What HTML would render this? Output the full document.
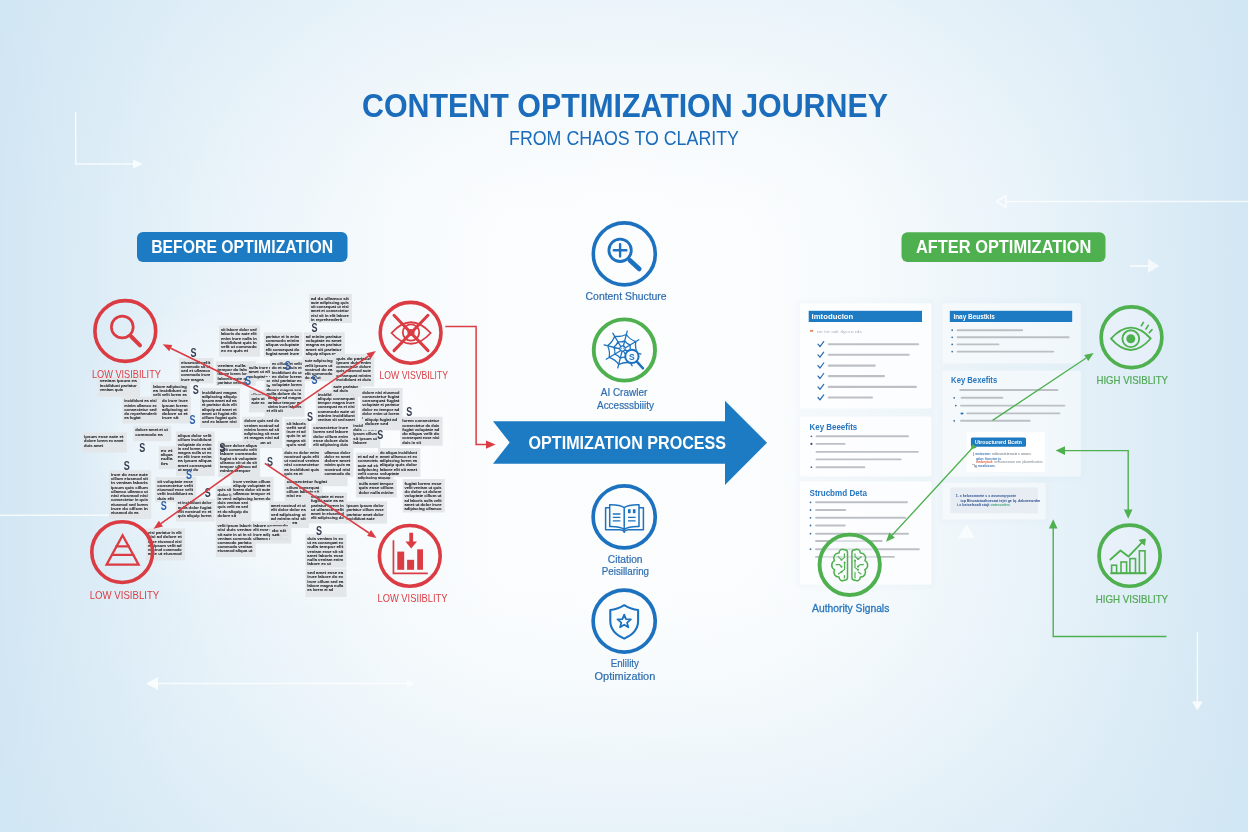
<!DOCTYPE html>
<html lang="en"><head><meta charset="utf-8"><title>Content Optimization Journey</title>
<style>html,body{margin:0;padding:0;background:#fdfefe;overflow:hidden}svg{display:block;opacity:0.999}</style></head>
<body>
<svg width="1248" height="832" viewBox="0 0 1248 832" font-family="'Liberation Sans', sans-serif">
<defs>
<linearGradient id="gh" x1="0" y1="0" x2="1" y2="0"><stop offset="0.0000" stop-color="#cfe5f3" stop-opacity="0.930"/><stop offset="0.0208" stop-color="#cfe5f3" stop-opacity="0.875"/><stop offset="0.0417" stop-color="#cfe5f3" stop-opacity="0.814"/><stop offset="0.0625" stop-color="#cfe5f3" stop-opacity="0.752"/><stop offset="0.0833" stop-color="#cfe5f3" stop-opacity="0.691"/><stop offset="0.1042" stop-color="#cfe5f3" stop-opacity="0.631"/><stop offset="0.1250" stop-color="#cfe5f3" stop-opacity="0.571"/><stop offset="0.1458" stop-color="#cfe5f3" stop-opacity="0.511"/><stop offset="0.1667" stop-color="#cfe5f3" stop-opacity="0.456"/><stop offset="0.1875" stop-color="#cfe5f3" stop-opacity="0.409"/><stop offset="0.2083" stop-color="#cfe5f3" stop-opacity="0.362"/><stop offset="0.2292" stop-color="#cfe5f3" stop-opacity="0.315"/><stop offset="0.2500" stop-color="#cfe5f3" stop-opacity="0.271"/><stop offset="0.2708" stop-color="#cfe5f3" stop-opacity="0.229"/><stop offset="0.2917" stop-color="#cfe5f3" stop-opacity="0.188"/><stop offset="0.3125" stop-color="#cfe5f3" stop-opacity="0.146"/><stop offset="0.3333" stop-color="#cfe5f3" stop-opacity="0.118"/><stop offset="0.3542" stop-color="#cfe5f3" stop-opacity="0.098"/><stop offset="0.3750" stop-color="#cfe5f3" stop-opacity="0.078"/><stop offset="0.3958" stop-color="#cfe5f3" stop-opacity="0.058"/><stop offset="0.4167" stop-color="#cfe5f3" stop-opacity="0.047"/><stop offset="0.4375" stop-color="#cfe5f3" stop-opacity="0.043"/><stop offset="0.4583" stop-color="#cfe5f3" stop-opacity="0.039"/><stop offset="0.4792" stop-color="#cfe5f3" stop-opacity="0.034"/><stop offset="0.5000" stop-color="#cfe5f3" stop-opacity="0.030"/><stop offset="0.5208" stop-color="#cfe5f3" stop-opacity="0.034"/><stop offset="0.5417" stop-color="#cfe5f3" stop-opacity="0.039"/><stop offset="0.5625" stop-color="#cfe5f3" stop-opacity="0.043"/><stop offset="0.5833" stop-color="#cfe5f3" stop-opacity="0.047"/><stop offset="0.6042" stop-color="#cfe5f3" stop-opacity="0.058"/><stop offset="0.6250" stop-color="#cfe5f3" stop-opacity="0.078"/><stop offset="0.6458" stop-color="#cfe5f3" stop-opacity="0.098"/><stop offset="0.6667" stop-color="#cfe5f3" stop-opacity="0.118"/><stop offset="0.6875" stop-color="#cfe5f3" stop-opacity="0.146"/><stop offset="0.7083" stop-color="#cfe5f3" stop-opacity="0.188"/><stop offset="0.7292" stop-color="#cfe5f3" stop-opacity="0.229"/><stop offset="0.7500" stop-color="#cfe5f3" stop-opacity="0.271"/><stop offset="0.7708" stop-color="#cfe5f3" stop-opacity="0.315"/><stop offset="0.7917" stop-color="#cfe5f3" stop-opacity="0.362"/><stop offset="0.8125" stop-color="#cfe5f3" stop-opacity="0.409"/><stop offset="0.8333" stop-color="#cfe5f3" stop-opacity="0.456"/><stop offset="0.8542" stop-color="#cfe5f3" stop-opacity="0.511"/><stop offset="0.8750" stop-color="#cfe5f3" stop-opacity="0.571"/><stop offset="0.8958" stop-color="#cfe5f3" stop-opacity="0.631"/><stop offset="0.9167" stop-color="#cfe5f3" stop-opacity="0.691"/><stop offset="0.9375" stop-color="#cfe5f3" stop-opacity="0.752"/><stop offset="0.9583" stop-color="#cfe5f3" stop-opacity="0.814"/><stop offset="0.9792" stop-color="#cfe5f3" stop-opacity="0.875"/><stop offset="1.0000" stop-color="#cfe5f3" stop-opacity="0.930"/></linearGradient>
<linearGradient id="gv" x1="0" y1="0" x2="0" y2="1"><stop offset="0.0000" stop-color="#cfe5f3" stop-opacity="0.376"/><stop offset="0.0385" stop-color="#cfe5f3" stop-opacity="0.300"/><stop offset="0.0769" stop-color="#cfe5f3" stop-opacity="0.229"/><stop offset="0.1154" stop-color="#cfe5f3" stop-opacity="0.164"/><stop offset="0.1538" stop-color="#cfe5f3" stop-opacity="0.107"/><stop offset="0.1923" stop-color="#cfe5f3" stop-opacity="0.061"/><stop offset="0.2308" stop-color="#cfe5f3" stop-opacity="0.026"/><stop offset="0.2692" stop-color="#cfe5f3" stop-opacity="0.005"/><stop offset="0.3077" stop-color="#cfe5f3" stop-opacity="0.000"/><stop offset="0.3462" stop-color="#cfe5f3" stop-opacity="0.000"/><stop offset="0.3846" stop-color="#cfe5f3" stop-opacity="0.000"/><stop offset="0.4231" stop-color="#cfe5f3" stop-opacity="0.000"/><stop offset="0.4615" stop-color="#cfe5f3" stop-opacity="0.000"/><stop offset="0.5000" stop-color="#cfe5f3" stop-opacity="0.000"/><stop offset="0.5385" stop-color="#cfe5f3" stop-opacity="0.000"/><stop offset="0.5769" stop-color="#cfe5f3" stop-opacity="0.000"/><stop offset="0.6154" stop-color="#cfe5f3" stop-opacity="0.000"/><stop offset="0.6538" stop-color="#cfe5f3" stop-opacity="0.000"/><stop offset="0.6923" stop-color="#cfe5f3" stop-opacity="0.005"/><stop offset="0.7308" stop-color="#cfe5f3" stop-opacity="0.026"/><stop offset="0.7692" stop-color="#cfe5f3" stop-opacity="0.061"/><stop offset="0.8077" stop-color="#cfe5f3" stop-opacity="0.107"/><stop offset="0.8462" stop-color="#cfe5f3" stop-opacity="0.164"/><stop offset="0.8846" stop-color="#cfe5f3" stop-opacity="0.229"/><stop offset="0.9231" stop-color="#cfe5f3" stop-opacity="0.300"/><stop offset="0.9615" stop-color="#cfe5f3" stop-opacity="0.376"/><stop offset="1.0000" stop-color="#cfe5f3" stop-opacity="0.455"/></linearGradient>
<filter id="sh" x="-10%" y="-10%" width="120%" height="120%"><feGaussianBlur stdDeviation="2.5"/></filter>
<filter id="b2"><feGaussianBlur stdDeviation="0.7"/></filter>
<filter id="gray" x="0" y="0" width="100%" height="100%" filterUnits="userSpaceOnUse"><feOffset dx="0" dy="0"/></filter>
<filter id="glow" x="-30%" y="-30%" width="160%" height="160%"><feGaussianBlur stdDeviation="28"/></filter>
<filter id="b1"><feGaussianBlur stdDeviation="0.3"/></filter>
</defs>
<rect width="1248" height="832" fill="#fdfefe"/>
<rect width="1248" height="832" fill="url(#gh)"/>
<rect width="1248" height="832" fill="url(#gv)"/>
<g filter="url(#gray)">
<g stroke="#ffffff" stroke-width="1.5" fill="none" opacity="0.75">
<path d="M75.7 112.2V164H134"/>
<path d="M1006 201.5H1248"/>
<path d="M1006 195.5L996.5 201.5L1006 207.5Z"/>
<path d="M0 515.3H150"/>
<path d="M155 683.5H408"/>
<path d="M1197.4 631.6V702"/>
</g>
<g fill="#ffffff" opacity="0.8">
<path d="M133 159.2L142.6 164L133 168.8Z"/>
<path d="M1130 265H1148V259L1159.5 266L1148 273V267H1130Z" opacity="0.85"/>
<path d="M146 683.5L158 677V690Z"/>
<path d="M407 679L415 683.5L407 688Z" opacity="0.7"/>
<path d="M1192 701.5H1202.8L1197.4 710.5Z"/>
<path d="M966.5 524L975 538H958Z" opacity="0.8"/>
</g>
<text x="625" y="117.3" font-size="33.5" fill="#1b6cbb" font-weight="bold" text-anchor="middle" textLength="526" lengthAdjust="spacingAndGlyphs" >CONTENT OPTIMIZATION JOURNEY</text>
<text x="624" y="144.6" font-size="20" fill="#1b6cbb" font-weight="normal" text-anchor="middle" textLength="230" lengthAdjust="spacingAndGlyphs" >FROM CHAOS TO CLARITY</text>
<rect x="137" y="232" width="210.5" height="30" rx="6" fill="#1c7bc3"/>
<text x="242.2" y="253.2" font-size="17.8" fill="#fff" font-weight="bold" text-anchor="middle" textLength="182" lengthAdjust="spacingAndGlyphs" >BEFORE OPTIMIZATION</text>
<rect x="901.5" y="232.3" width="204" height="29.7" rx="6" fill="#4fb050"/>
<text x="1003.7" y="253.3" font-size="17.8" fill="#fff" font-weight="bold" text-anchor="middle" textLength="175.5" lengthAdjust="spacingAndGlyphs" >AFTER OPTIMIZATION</text>
<ellipse cx="275" cy="445" rx="170" ry="135" fill="#ffffff" opacity="0.4" filter="url(#glow)"/>
<g font-size="4.2" font-weight="bold" fill="#26282c" stroke="#26282c" stroke-width="0.08" filter="url(#b1)">
<rect x="309.0" y="294.0" width="43.0" height="29.0" fill="#e3e6e9" stroke="none" opacity="0.95"/>
<text x="310.9" y="299.6" textLength="37.8" lengthAdjust="spacingAndGlyphs">ad do ullamco sit</text>
<text x="310.9" y="303.8" textLength="37.8" lengthAdjust="spacingAndGlyphs">aute adipiscing quis</text>
<text x="310.9" y="308.1" textLength="37.8" lengthAdjust="spacingAndGlyphs">sit consequat ut nisi</text>
<text x="310.9" y="312.3" textLength="37.8" lengthAdjust="spacingAndGlyphs">amet et consectetur</text>
<text x="310.9" y="316.6" textLength="37.8" lengthAdjust="spacingAndGlyphs">nisi sit in elit labore</text>
<text x="310.9" y="320.8" textLength="31.3" lengthAdjust="spacingAndGlyphs">in reprehenderit</text>
<rect x="219.0" y="325.6" width="41.0" height="31.0" fill="#e3e6e9" stroke="none" opacity="0.95"/>
<text x="220.9" y="331.2" textLength="35.8" lengthAdjust="spacingAndGlyphs">sit labore dolor sed</text>
<text x="220.9" y="335.4" textLength="35.8" lengthAdjust="spacingAndGlyphs">laboris do aute elit</text>
<text x="220.9" y="339.7" textLength="35.8" lengthAdjust="spacingAndGlyphs">enim irure nulla in</text>
<text x="220.9" y="343.9" textLength="35.8" lengthAdjust="spacingAndGlyphs">incididunt quis in</text>
<text x="220.9" y="348.2" textLength="35.8" lengthAdjust="spacingAndGlyphs">velit ut commodo</text>
<text x="220.9" y="352.4" textLength="27.2" lengthAdjust="spacingAndGlyphs">ex ex quis et</text>
<rect x="263.8" y="332.3" width="38.7" height="24.4" fill="#e3e6e9" stroke="none" opacity="0.95"/>
<text x="265.7" y="337.9" textLength="33.5" lengthAdjust="spacingAndGlyphs">pariatur et in enim</text>
<text x="265.7" y="342.1" textLength="33.5" lengthAdjust="spacingAndGlyphs">commodo minim</text>
<text x="265.7" y="346.4" textLength="33.5" lengthAdjust="spacingAndGlyphs">aliqua voluptate</text>
<text x="265.7" y="350.6" textLength="33.5" lengthAdjust="spacingAndGlyphs">elit consequat do</text>
<text x="265.7" y="354.9" textLength="33.5" lengthAdjust="spacingAndGlyphs">fugiat amet irure</text>
<rect x="303.8" y="332.3" width="41.0" height="24.4" fill="#e3e6e9" stroke="none" opacity="0.95"/>
<text x="305.7" y="337.9" textLength="35.8" lengthAdjust="spacingAndGlyphs">ad minim pariatur</text>
<text x="305.7" y="342.1" textLength="35.8" lengthAdjust="spacingAndGlyphs">voluptate ex amet</text>
<text x="305.7" y="346.4" textLength="35.8" lengthAdjust="spacingAndGlyphs">magna ea pariatur</text>
<text x="305.7" y="350.6" textLength="35.8" lengthAdjust="spacingAndGlyphs">amet sit pariatur</text>
<text x="305.7" y="354.9" textLength="30.3" lengthAdjust="spacingAndGlyphs">aliquip aliqua ex</text>
<rect x="179.0" y="358.0" width="34.5" height="25.4" fill="#e3e6e9" stroke="none" opacity="0.95"/>
<text x="180.9" y="363.6" textLength="29.3" lengthAdjust="spacingAndGlyphs">eiusmod velit</text>
<text x="180.9" y="367.8" textLength="29.3" lengthAdjust="spacingAndGlyphs">commodo sit ut</text>
<text x="180.9" y="372.1" textLength="29.3" lengthAdjust="spacingAndGlyphs">sed et ullamco</text>
<text x="180.9" y="376.3" textLength="29.3" lengthAdjust="spacingAndGlyphs">commodo irure</text>
<text x="180.9" y="380.6" textLength="22.8" lengthAdjust="spacingAndGlyphs">irure magna</text>
<rect x="215.7" y="361.2" width="40.0" height="24.5" fill="#e3e6e9" stroke="none" opacity="0.95"/>
<text x="217.6" y="366.8" textLength="34.8" lengthAdjust="spacingAndGlyphs">veniam nulla do</text>
<text x="217.6" y="371.0" textLength="34.8" lengthAdjust="spacingAndGlyphs">tempor do labore</text>
<text x="217.6" y="375.3" textLength="34.8" lengthAdjust="spacingAndGlyphs">labore lorem lorem</text>
<text x="217.6" y="379.5" textLength="34.8" lengthAdjust="spacingAndGlyphs">laboris aute quis</text>
<text x="217.6" y="383.8" textLength="28.9" lengthAdjust="spacingAndGlyphs">pariatur velit sit</text>
<rect x="246.8" y="363.4" width="35.6" height="17.8" fill="#e3e6e9" stroke="none" opacity="0.95"/>
<text x="248.7" y="369.0" textLength="30.4" lengthAdjust="spacingAndGlyphs">nulla irure ea sit</text>
<text x="248.7" y="373.2" textLength="30.4" lengthAdjust="spacingAndGlyphs">amet ut aliquip</text>
<text x="248.7" y="377.5" textLength="30.4" lengthAdjust="spacingAndGlyphs">voluptate sit in</text>
<rect x="302.5" y="356.7" width="33.3" height="24.5" fill="#e3e6e9" stroke="none" opacity="0.95"/>
<text x="304.4" y="362.3" textLength="28.1" lengthAdjust="spacingAndGlyphs">aute adipiscing</text>
<text x="304.4" y="366.5" textLength="28.1" lengthAdjust="spacingAndGlyphs">velit ipsum ut</text>
<text x="304.4" y="370.8" textLength="28.1" lengthAdjust="spacingAndGlyphs">nostrud do ea</text>
<text x="304.4" y="375.0" textLength="28.1" lengthAdjust="spacingAndGlyphs">elit commodo</text>
<text x="304.4" y="379.3" textLength="16.2" lengthAdjust="spacingAndGlyphs">do ea ut</text>
<rect x="334.3" y="354.0" width="40.0" height="32.5" fill="#e3e6e9" stroke="none" opacity="0.95"/>
<text x="336.2" y="359.6" textLength="34.8" lengthAdjust="spacingAndGlyphs">quis do pariatur</text>
<text x="336.2" y="363.8" textLength="34.8" lengthAdjust="spacingAndGlyphs">ipsum duis enim</text>
<text x="336.2" y="368.1" textLength="34.8" lengthAdjust="spacingAndGlyphs">consectetur dolore</text>
<text x="336.2" y="372.3" textLength="34.8" lengthAdjust="spacingAndGlyphs">quis eiusmod aute</text>
<text x="336.2" y="376.6" textLength="34.8" lengthAdjust="spacingAndGlyphs">consequat minim</text>
<text x="336.2" y="380.8" textLength="34.8" lengthAdjust="spacingAndGlyphs">incididunt et duis</text>
<rect x="97.8" y="376.8" width="42.2" height="20.0" fill="#e3e6e9" stroke="none" opacity="0.95"/>
<text x="99.7" y="382.4" textLength="37.0" lengthAdjust="spacingAndGlyphs">veniam ipsum ea</text>
<text x="99.7" y="386.6" textLength="37.0" lengthAdjust="spacingAndGlyphs">incididunt pariatur</text>
<text x="99.7" y="390.9" textLength="23.3" lengthAdjust="spacingAndGlyphs">veniam quis</text>
<rect x="151.2" y="382.0" width="38.8" height="23.4" fill="#e3e6e9" stroke="none" opacity="0.95"/>
<text x="153.1" y="387.6" textLength="33.6" lengthAdjust="spacingAndGlyphs">labore adipiscing</text>
<text x="153.1" y="391.8" textLength="33.6" lengthAdjust="spacingAndGlyphs">ea incididunt ut</text>
<text x="153.1" y="396.1" textLength="33.6" lengthAdjust="spacingAndGlyphs">velit velit lorem ea</text>
<text x="153.1" y="400.3" textLength="33.6" lengthAdjust="spacingAndGlyphs">cillum fugiat elit</text>
<rect x="122.3" y="396.8" width="37.7" height="26.7" fill="#e3e6e9" stroke="none" opacity="0.95"/>
<text x="124.2" y="402.4" textLength="32.5" lengthAdjust="spacingAndGlyphs">incididunt ea nisi</text>
<text x="124.2" y="406.6" textLength="32.5" lengthAdjust="spacingAndGlyphs">minim ullamco ex</text>
<text x="124.2" y="410.9" textLength="32.5" lengthAdjust="spacingAndGlyphs">consectetur sed</text>
<text x="124.2" y="415.1" textLength="32.5" lengthAdjust="spacingAndGlyphs">do reprehenderit</text>
<text x="124.2" y="419.4" textLength="16.5" lengthAdjust="spacingAndGlyphs">ea fugiat</text>
<rect x="160.0" y="396.8" width="31.0" height="26.7" fill="#e3e6e9" stroke="none" opacity="0.95"/>
<text x="161.9" y="402.4" textLength="25.8" lengthAdjust="spacingAndGlyphs">do irure irure</text>
<text x="161.9" y="406.6" textLength="25.8" lengthAdjust="spacingAndGlyphs">ipsum lorem</text>
<text x="161.9" y="410.9" textLength="25.8" lengthAdjust="spacingAndGlyphs">adipiscing ut</text>
<text x="161.9" y="415.1" textLength="25.8" lengthAdjust="spacingAndGlyphs">dolore ut et</text>
<text x="161.9" y="419.4" textLength="16.6" lengthAdjust="spacingAndGlyphs">irure sit</text>
<rect x="200.0" y="388.0" width="40.0" height="40.0" fill="#e3e6e9" stroke="none" opacity="0.95"/>
<text x="201.9" y="393.6" textLength="34.8" lengthAdjust="spacingAndGlyphs">incididunt magna</text>
<text x="201.9" y="397.8" textLength="34.8" lengthAdjust="spacingAndGlyphs">adipiscing aliquip</text>
<text x="201.9" y="402.1" textLength="34.8" lengthAdjust="spacingAndGlyphs">ipsum amet ad ea</text>
<text x="201.9" y="406.3" textLength="34.8" lengthAdjust="spacingAndGlyphs">et pariatur duis elit</text>
<text x="201.9" y="410.6" textLength="34.8" lengthAdjust="spacingAndGlyphs">aliquip ad amet et</text>
<text x="201.9" y="414.8" textLength="34.8" lengthAdjust="spacingAndGlyphs">amet ut fugiat elit</text>
<text x="201.9" y="419.0" textLength="34.8" lengthAdjust="spacingAndGlyphs">cillum fugiat quis</text>
<text x="201.9" y="423.3" textLength="34.8" lengthAdjust="spacingAndGlyphs">sed ex labore nisi</text>
<rect x="249.0" y="390.0" width="33.4" height="22.4" fill="#e3e6e9" stroke="none" opacity="0.95"/>
<text x="250.9" y="395.6" textLength="28.2" lengthAdjust="spacingAndGlyphs">ullamco minim</text>
<text x="250.9" y="399.8" textLength="28.2" lengthAdjust="spacingAndGlyphs">incididunt ad</text>
<text x="250.9" y="404.1" textLength="28.2" lengthAdjust="spacingAndGlyphs">quis ipsum ex</text>
<text x="250.9" y="408.3" textLength="17.0" lengthAdjust="spacingAndGlyphs">duis velit</text>
<rect x="264.6" y="376.8" width="40.0" height="40.0" fill="#e3e6e9" stroke="none" opacity="0.95"/>
<text x="266.5" y="382.4" textLength="34.8" lengthAdjust="spacingAndGlyphs">consequat amet</text>
<text x="266.5" y="386.6" textLength="34.8" lengthAdjust="spacingAndGlyphs">labore adipiscing</text>
<text x="266.5" y="390.9" textLength="34.8" lengthAdjust="spacingAndGlyphs">dolore magna sed</text>
<text x="266.5" y="395.1" textLength="34.8" lengthAdjust="spacingAndGlyphs">nulla dolore do in</text>
<text x="266.5" y="399.4" textLength="34.8" lengthAdjust="spacingAndGlyphs">pariatur ad magna</text>
<text x="266.5" y="403.6" textLength="34.8" lengthAdjust="spacingAndGlyphs">pariatur tempor ex</text>
<text x="266.5" y="407.8" textLength="34.8" lengthAdjust="spacingAndGlyphs">minim irure laboris</text>
<text x="266.5" y="412.1" textLength="16.3" lengthAdjust="spacingAndGlyphs">et elit sit</text>
<rect x="315.8" y="390.0" width="42.2" height="35.7" fill="#e3e6e9" stroke="none" opacity="0.95"/>
<text x="317.7" y="395.6" textLength="37.0" lengthAdjust="spacingAndGlyphs">incididunt enim ut</text>
<text x="317.7" y="399.8" textLength="37.0" lengthAdjust="spacingAndGlyphs">aliquip consequat</text>
<text x="317.7" y="404.1" textLength="37.0" lengthAdjust="spacingAndGlyphs">tempor magna irure</text>
<text x="317.7" y="408.3" textLength="37.0" lengthAdjust="spacingAndGlyphs">consequat ea et nisi</text>
<text x="317.7" y="412.6" textLength="37.0" lengthAdjust="spacingAndGlyphs">commodo aute ut</text>
<text x="317.7" y="416.8" textLength="37.0" lengthAdjust="spacingAndGlyphs">minim incididunt</text>
<text x="317.7" y="421.0" textLength="37.0" lengthAdjust="spacingAndGlyphs">veniam sit sed amet</text>
<rect x="360.3" y="388.0" width="42.3" height="35.5" fill="#e3e6e9" stroke="none" opacity="0.95"/>
<text x="362.2" y="393.6" textLength="37.1" lengthAdjust="spacingAndGlyphs">dolore nisi eiusmod</text>
<text x="362.2" y="397.8" textLength="37.1" lengthAdjust="spacingAndGlyphs">consectetur fugiat</text>
<text x="362.2" y="402.1" textLength="37.1" lengthAdjust="spacingAndGlyphs">consequat fugiat</text>
<text x="362.2" y="406.3" textLength="37.1" lengthAdjust="spacingAndGlyphs">voluptate et pariatur</text>
<text x="362.2" y="410.6" textLength="37.1" lengthAdjust="spacingAndGlyphs">dolor ex tempor ad</text>
<text x="362.2" y="414.8" textLength="37.1" lengthAdjust="spacingAndGlyphs">dolor enim ut lorem</text>
<text x="362.2" y="419.0" textLength="37.1" lengthAdjust="spacingAndGlyphs">ea magna cillum et</text>
<rect x="400.3" y="416.8" width="42.3" height="28.9" fill="#e3e6e9" stroke="none" opacity="0.95"/>
<text x="402.2" y="422.4" textLength="37.1" lengthAdjust="spacingAndGlyphs">lorem consectetur</text>
<text x="402.2" y="426.6" textLength="37.1" lengthAdjust="spacingAndGlyphs">consectetur do duis</text>
<text x="402.2" y="430.9" textLength="37.1" lengthAdjust="spacingAndGlyphs">fugiat voluptate ad</text>
<text x="402.2" y="435.1" textLength="37.1" lengthAdjust="spacingAndGlyphs">do aliqua velit do</text>
<text x="402.2" y="439.4" textLength="37.1" lengthAdjust="spacingAndGlyphs">consequat esse nisi</text>
<text x="402.2" y="443.6" textLength="18.8" lengthAdjust="spacingAndGlyphs">duis in sit</text>
<rect x="82.2" y="432.4" width="44.5" height="20.0" fill="#e3e6e9" stroke="none" opacity="0.95"/>
<text x="84.1" y="438.0" textLength="39.3" lengthAdjust="spacingAndGlyphs">ipsum esse aute et</text>
<text x="84.1" y="442.2" textLength="39.3" lengthAdjust="spacingAndGlyphs">dolore lorem ex amet</text>
<text x="84.1" y="446.5" textLength="19.1" lengthAdjust="spacingAndGlyphs">duis amet</text>
<rect x="133.4" y="425.7" width="37.8" height="15.6" fill="#e3e6e9" stroke="none" opacity="0.95"/>
<text x="135.3" y="431.3" textLength="32.6" lengthAdjust="spacingAndGlyphs">dolore amet et ut</text>
<text x="135.3" y="435.5" textLength="27.4" lengthAdjust="spacingAndGlyphs">commodo ea</text>
<rect x="175.9" y="431.4" width="38.8" height="44.6" fill="#e3e6e9" stroke="none" opacity="0.95"/>
<text x="177.8" y="437.0" textLength="33.6" lengthAdjust="spacingAndGlyphs">aliqua dolor velit</text>
<text x="177.8" y="441.2" textLength="33.6" lengthAdjust="spacingAndGlyphs">cillum incididunt</text>
<text x="177.8" y="445.5" textLength="33.6" lengthAdjust="spacingAndGlyphs">voluptate do enim</text>
<text x="177.8" y="449.7" textLength="33.6" lengthAdjust="spacingAndGlyphs">in sed lorem ea sit</text>
<text x="177.8" y="454.0" textLength="33.6" lengthAdjust="spacingAndGlyphs">magna nulla ut ex</text>
<text x="177.8" y="458.2" textLength="33.6" lengthAdjust="spacingAndGlyphs">ex elit irure enim</text>
<text x="177.8" y="462.4" textLength="33.6" lengthAdjust="spacingAndGlyphs">ea ipsum aliqua</text>
<text x="177.8" y="466.7" textLength="33.6" lengthAdjust="spacingAndGlyphs">amet consequat</text>
<text x="177.8" y="470.9" textLength="20.3" lengthAdjust="spacingAndGlyphs">ut amet do</text>
<rect x="242.4" y="416.8" width="40.0" height="31.2" fill="#e3e6e9" stroke="none" opacity="0.95"/>
<text x="244.3" y="422.4" textLength="34.8" lengthAdjust="spacingAndGlyphs">dolore quis sed do</text>
<text x="244.3" y="426.6" textLength="34.8" lengthAdjust="spacingAndGlyphs">veniam nostrud ad</text>
<text x="244.3" y="430.9" textLength="34.8" lengthAdjust="spacingAndGlyphs">minim lorem ad sit</text>
<text x="244.3" y="435.1" textLength="34.8" lengthAdjust="spacingAndGlyphs">adipiscing sit esse</text>
<text x="244.3" y="439.4" textLength="34.8" lengthAdjust="spacingAndGlyphs">et magna nisi ad</text>
<text x="244.3" y="443.6" textLength="26.6" lengthAdjust="spacingAndGlyphs">nisi ipsum ut</text>
<rect x="284.7" y="419.0" width="24.3" height="29.0" fill="#e3e6e9" stroke="none" opacity="0.95"/>
<text x="286.6" y="424.6" textLength="19.1" lengthAdjust="spacingAndGlyphs">sit laboris</text>
<text x="286.6" y="428.8" textLength="19.1" lengthAdjust="spacingAndGlyphs">velit sed</text>
<text x="286.6" y="433.1" textLength="19.1" lengthAdjust="spacingAndGlyphs">irure et ad</text>
<text x="286.6" y="437.3" textLength="19.1" lengthAdjust="spacingAndGlyphs">quis in ut</text>
<text x="286.6" y="441.6" textLength="19.1" lengthAdjust="spacingAndGlyphs">magna sit</text>
<text x="286.6" y="445.8" textLength="19.1" lengthAdjust="spacingAndGlyphs">quis sed</text>
<rect x="311.4" y="423.5" width="40.0" height="24.5" fill="#e3e6e9" stroke="none" opacity="0.95"/>
<text x="313.3" y="429.1" textLength="34.8" lengthAdjust="spacingAndGlyphs">consectetur irure</text>
<text x="313.3" y="433.3" textLength="34.8" lengthAdjust="spacingAndGlyphs">lorem sed labore</text>
<text x="313.3" y="437.6" textLength="34.8" lengthAdjust="spacingAndGlyphs">dolor cillum enim</text>
<text x="313.3" y="441.8" textLength="34.8" lengthAdjust="spacingAndGlyphs">esse dolore duis</text>
<text x="313.3" y="446.1" textLength="34.8" lengthAdjust="spacingAndGlyphs">elit adipiscing duis</text>
<rect x="351.4" y="421.3" width="28.9" height="26.7" fill="#e3e6e9" stroke="none" opacity="0.95"/>
<text x="353.3" y="426.9" textLength="23.7" lengthAdjust="spacingAndGlyphs">incididunt et</text>
<text x="353.3" y="431.1" textLength="23.7" lengthAdjust="spacingAndGlyphs">duis et irure</text>
<text x="353.3" y="435.4" textLength="23.7" lengthAdjust="spacingAndGlyphs">ipsum cillum</text>
<text x="353.3" y="439.6" textLength="23.7" lengthAdjust="spacingAndGlyphs">sit ipsum ut</text>
<text x="353.3" y="443.9" textLength="13.6" lengthAdjust="spacingAndGlyphs">labore</text>
<rect x="218.0" y="441.3" width="42.2" height="35.6" fill="#e3e6e9" stroke="none" opacity="0.95"/>
<text x="219.9" y="446.9" textLength="37.0" lengthAdjust="spacingAndGlyphs">labore dolore aliqua</text>
<text x="219.9" y="451.1" textLength="37.0" lengthAdjust="spacingAndGlyphs">velit commodo velit</text>
<text x="219.9" y="455.4" textLength="37.0" lengthAdjust="spacingAndGlyphs">labore commodo</text>
<text x="219.9" y="459.6" textLength="37.0" lengthAdjust="spacingAndGlyphs">fugiat sit voluptate</text>
<text x="219.9" y="463.9" textLength="37.0" lengthAdjust="spacingAndGlyphs">ullamco sit ut do sit</text>
<text x="219.9" y="468.1" textLength="37.0" lengthAdjust="spacingAndGlyphs">tempor ullamco ad</text>
<text x="219.9" y="472.3" textLength="30.4" lengthAdjust="spacingAndGlyphs">minim tempor</text>
<rect x="282.4" y="448.0" width="40.0" height="28.9" fill="#e3e6e9" stroke="none" opacity="0.95"/>
<text x="284.3" y="453.6" textLength="34.8" lengthAdjust="spacingAndGlyphs">duis ex dolor enim</text>
<text x="284.3" y="457.8" textLength="34.8" lengthAdjust="spacingAndGlyphs">nostrud quis elit</text>
<text x="284.3" y="462.1" textLength="34.8" lengthAdjust="spacingAndGlyphs">ut nostrud veniam</text>
<text x="284.3" y="466.3" textLength="34.8" lengthAdjust="spacingAndGlyphs">nisi consectetur</text>
<text x="284.3" y="470.6" textLength="34.8" lengthAdjust="spacingAndGlyphs">ea incididunt quis</text>
<text x="284.3" y="474.8" textLength="18.3" lengthAdjust="spacingAndGlyphs">quis ea et</text>
<rect x="322.5" y="448.0" width="31.0" height="28.9" fill="#e3e6e9" stroke="none" opacity="0.95"/>
<text x="324.4" y="453.6" textLength="25.8" lengthAdjust="spacingAndGlyphs">ullamco dolor</text>
<text x="324.4" y="457.8" textLength="25.8" lengthAdjust="spacingAndGlyphs">dolor ex amet</text>
<text x="324.4" y="462.1" textLength="25.8" lengthAdjust="spacingAndGlyphs">dolore amet</text>
<text x="324.4" y="466.3" textLength="25.8" lengthAdjust="spacingAndGlyphs">minim quis ea</text>
<text x="324.4" y="470.6" textLength="25.8" lengthAdjust="spacingAndGlyphs">nostrud nisi</text>
<text x="324.4" y="474.8" textLength="25.8" lengthAdjust="spacingAndGlyphs">commodo do</text>
<rect x="355.9" y="452.4" width="37.8" height="44.5" fill="#e3e6e9" stroke="none" opacity="0.95"/>
<text x="357.8" y="458.0" textLength="32.6" lengthAdjust="spacingAndGlyphs">et ad ad ex quis</text>
<text x="357.8" y="462.2" textLength="32.6" lengthAdjust="spacingAndGlyphs">consectetur et ea</text>
<text x="357.8" y="466.5" textLength="32.6" lengthAdjust="spacingAndGlyphs">aute ad eiusmod</text>
<text x="357.8" y="470.7" textLength="32.6" lengthAdjust="spacingAndGlyphs">adipiscing amet</text>
<text x="357.8" y="475.0" textLength="32.6" lengthAdjust="spacingAndGlyphs">velit consectetur</text>
<text x="357.8" y="479.2" textLength="32.6" lengthAdjust="spacingAndGlyphs">adipiscing aliquip</text>
<text x="357.8" y="483.4" textLength="32.6" lengthAdjust="spacingAndGlyphs">labore sed ex et</text>
<text x="357.8" y="487.7" textLength="32.6" lengthAdjust="spacingAndGlyphs">fugiat elit aliqua</text>
<text x="357.8" y="491.9" textLength="32.6" lengthAdjust="spacingAndGlyphs">magna quis et et</text>
<rect x="378.0" y="448.0" width="42.4" height="28.9" fill="#e3e6e9" stroke="none" opacity="0.95"/>
<text x="379.9" y="453.6" textLength="37.2" lengthAdjust="spacingAndGlyphs">do aliqua incididunt</text>
<text x="379.9" y="457.8" textLength="37.2" lengthAdjust="spacingAndGlyphs">amet ullamco et ex</text>
<text x="379.9" y="462.1" textLength="37.2" lengthAdjust="spacingAndGlyphs">adipiscing lorem ea</text>
<text x="379.9" y="466.3" textLength="37.2" lengthAdjust="spacingAndGlyphs">aliquip quis dolor</text>
<text x="379.9" y="470.6" textLength="37.2" lengthAdjust="spacingAndGlyphs">labore elit sit amet</text>
<text x="379.9" y="474.8" textLength="19.4" lengthAdjust="spacingAndGlyphs">voluptate</text>
<rect x="402.6" y="479.0" width="42.2" height="33.5" fill="#e3e6e9" stroke="none" opacity="0.95"/>
<text x="404.5" y="484.6" textLength="37.0" lengthAdjust="spacingAndGlyphs">fugiat lorem esse</text>
<text x="404.5" y="488.8" textLength="37.0" lengthAdjust="spacingAndGlyphs">velit veniam ut quis</text>
<text x="404.5" y="493.1" textLength="37.0" lengthAdjust="spacingAndGlyphs">do dolor ut dolore</text>
<text x="404.5" y="497.3" textLength="37.0" lengthAdjust="spacingAndGlyphs">voluptate cillum ut</text>
<text x="404.5" y="501.6" textLength="37.0" lengthAdjust="spacingAndGlyphs">ad laboris nulla velit</text>
<text x="404.5" y="505.8" textLength="37.0" lengthAdjust="spacingAndGlyphs">amet ut dolor irure</text>
<text x="404.5" y="510.0" textLength="37.0" lengthAdjust="spacingAndGlyphs">adipiscing ullamco</text>
<rect x="109.0" y="470.2" width="42.2" height="48.8" fill="#e3e6e9" stroke="none" opacity="0.95"/>
<text x="110.9" y="475.8" textLength="37.0" lengthAdjust="spacingAndGlyphs">irure do esse aute</text>
<text x="110.9" y="480.0" textLength="37.0" lengthAdjust="spacingAndGlyphs">cillum eiusmod sit</text>
<text x="110.9" y="484.3" textLength="37.0" lengthAdjust="spacingAndGlyphs">in veniam laboris</text>
<text x="110.9" y="488.5" textLength="37.0" lengthAdjust="spacingAndGlyphs">ipsum quis cillum</text>
<text x="110.9" y="492.8" textLength="37.0" lengthAdjust="spacingAndGlyphs">ullamco ullamco ut</text>
<text x="110.9" y="497.0" textLength="37.0" lengthAdjust="spacingAndGlyphs">nisi eiusmod nisi</text>
<text x="110.9" y="501.2" textLength="37.0" lengthAdjust="spacingAndGlyphs">consectetur in quis</text>
<text x="110.9" y="505.5" textLength="37.0" lengthAdjust="spacingAndGlyphs">eiusmod sed lorem</text>
<text x="110.9" y="509.7" textLength="37.0" lengthAdjust="spacingAndGlyphs">irure do cillum in</text>
<text x="110.9" y="514.0" textLength="27.6" lengthAdjust="spacingAndGlyphs">eiusmod do ea</text>
<rect x="155.3" y="477.0" width="41.0" height="25.2" fill="#e3e6e9" stroke="none" opacity="0.95"/>
<text x="157.2" y="482.6" textLength="35.8" lengthAdjust="spacingAndGlyphs">sit voluptate esse</text>
<text x="157.2" y="486.8" textLength="35.8" lengthAdjust="spacingAndGlyphs">consectetur velit</text>
<text x="157.2" y="491.1" textLength="35.8" lengthAdjust="spacingAndGlyphs">eiusmod esse velit</text>
<text x="157.2" y="495.3" textLength="35.8" lengthAdjust="spacingAndGlyphs">velit incididunt ea</text>
<text x="157.2" y="499.6" textLength="16.7" lengthAdjust="spacingAndGlyphs">duis elit</text>
<rect x="175.9" y="498.8" width="38.8" height="22.8" fill="#e3e6e9" stroke="none" opacity="0.95"/>
<text x="177.8" y="504.4" textLength="33.6" lengthAdjust="spacingAndGlyphs">et incididunt dolor</text>
<text x="177.8" y="508.6" textLength="33.6" lengthAdjust="spacingAndGlyphs">nulla dolor fugiat</text>
<text x="177.8" y="512.9" textLength="33.6" lengthAdjust="spacingAndGlyphs">elit nostrud ex et</text>
<text x="177.8" y="517.1" textLength="33.6" lengthAdjust="spacingAndGlyphs">quis aliquip lorem</text>
<rect x="158.8" y="446.3" width="17.0" height="22.7" fill="#e3e6e9" stroke="none" opacity="0.95"/>
<text x="160.7" y="451.9" textLength="11.8" lengthAdjust="spacingAndGlyphs">ex et</text>
<text x="160.7" y="456.1" textLength="11.8" lengthAdjust="spacingAndGlyphs">aliqua</text>
<text x="160.7" y="460.4" textLength="11.8" lengthAdjust="spacingAndGlyphs">nulla</text>
<text x="160.7" y="464.6" textLength="7.4" lengthAdjust="spacingAndGlyphs">in</text>
<rect x="215.7" y="485.8" width="35.6" height="35.6" fill="#e3e6e9" stroke="none" opacity="0.95"/>
<text x="217.6" y="491.4" textLength="30.4" lengthAdjust="spacingAndGlyphs">quis sit sed velit</text>
<text x="217.6" y="495.6" textLength="30.4" lengthAdjust="spacingAndGlyphs">dolor ipsum sit</text>
<text x="217.6" y="499.9" textLength="30.4" lengthAdjust="spacingAndGlyphs">in veniam enim</text>
<text x="217.6" y="504.1" textLength="30.4" lengthAdjust="spacingAndGlyphs">duis veniam sed</text>
<text x="217.6" y="508.4" textLength="30.4" lengthAdjust="spacingAndGlyphs">quis velit ea sed</text>
<text x="217.6" y="512.6" textLength="30.4" lengthAdjust="spacingAndGlyphs">et do aliquip do</text>
<text x="217.6" y="516.8" textLength="18.6" lengthAdjust="spacingAndGlyphs">dolore sit</text>
<rect x="231.3" y="476.9" width="42.3" height="24.5" fill="#e3e6e9" stroke="none" opacity="0.95"/>
<text x="233.2" y="482.5" textLength="37.1" lengthAdjust="spacingAndGlyphs">irure veniam cillum</text>
<text x="233.2" y="486.7" textLength="37.1" lengthAdjust="spacingAndGlyphs">aliquip voluptate et</text>
<text x="233.2" y="491.0" textLength="37.1" lengthAdjust="spacingAndGlyphs">lorem dolor sit aute</text>
<text x="233.2" y="495.2" textLength="37.1" lengthAdjust="spacingAndGlyphs">ullamco tempor et</text>
<text x="233.2" y="499.5" textLength="37.1" lengthAdjust="spacingAndGlyphs">adipiscing lorem do</text>
<rect x="284.7" y="479.0" width="37.8" height="22.4" fill="#e3e6e9" stroke="none" opacity="0.95"/>
<text x="286.6" y="484.6" textLength="32.6" lengthAdjust="spacingAndGlyphs">incididunt duis</text>
<text x="286.6" y="488.8" textLength="32.6" lengthAdjust="spacingAndGlyphs">cillum consequat</text>
<text x="286.6" y="493.1" textLength="32.6" lengthAdjust="spacingAndGlyphs">cillum laboris sit</text>
<text x="286.6" y="497.3" textLength="14.8" lengthAdjust="spacingAndGlyphs">nisi ex</text>
<rect x="309.0" y="492.5" width="38.0" height="31.0" fill="#e3e6e9" stroke="none" opacity="0.95"/>
<text x="310.9" y="498.1" textLength="32.8" lengthAdjust="spacingAndGlyphs">voluptate et esse</text>
<text x="310.9" y="502.3" textLength="32.8" lengthAdjust="spacingAndGlyphs">fugiat aute ea ea</text>
<text x="310.9" y="506.6" textLength="32.8" lengthAdjust="spacingAndGlyphs">pariatur lorem in</text>
<text x="310.9" y="510.8" textLength="32.8" lengthAdjust="spacingAndGlyphs">ut ullamco velit</text>
<text x="310.9" y="515.1" textLength="32.8" lengthAdjust="spacingAndGlyphs">amet in eiusmod</text>
<text x="310.9" y="519.3" textLength="32.8" lengthAdjust="spacingAndGlyphs">elit adipiscing do</text>
<rect x="344.7" y="501.4" width="42.3" height="22.2" fill="#e3e6e9" stroke="none" opacity="0.95"/>
<text x="346.6" y="507.0" textLength="37.1" lengthAdjust="spacingAndGlyphs">ipsum ipsum dolor</text>
<text x="346.6" y="511.2" textLength="37.1" lengthAdjust="spacingAndGlyphs">pariatur cillum esse</text>
<text x="346.6" y="515.5" textLength="37.1" lengthAdjust="spacingAndGlyphs">pariatur amet dolor</text>
<text x="346.6" y="519.7" textLength="28.0" lengthAdjust="spacingAndGlyphs">incididunt aute</text>
<rect x="269.0" y="501.4" width="40.0" height="26.6" fill="#e3e6e9" stroke="none" opacity="0.95"/>
<text x="270.9" y="507.0" textLength="34.8" lengthAdjust="spacingAndGlyphs">amet nostrud et ut</text>
<text x="270.9" y="511.2" textLength="34.8" lengthAdjust="spacingAndGlyphs">elit dolor dolor ea</text>
<text x="270.9" y="515.5" textLength="34.8" lengthAdjust="spacingAndGlyphs">sed adipiscing ut</text>
<text x="270.9" y="519.7" textLength="34.8" lengthAdjust="spacingAndGlyphs">ad minim nisi sit</text>
<text x="270.9" y="524.0" textLength="26.4" lengthAdjust="spacingAndGlyphs">voluptate ea</text>
<rect x="215.7" y="521.4" width="40.0" height="35.6" fill="#e3e6e9" stroke="none" opacity="0.95"/>
<text x="217.6" y="527.0" textLength="34.8" lengthAdjust="spacingAndGlyphs">velit ipsum laboris</text>
<text x="217.6" y="531.2" textLength="34.8" lengthAdjust="spacingAndGlyphs">nisi duis veniam</text>
<text x="217.6" y="535.5" textLength="34.8" lengthAdjust="spacingAndGlyphs">sit aute in ut in sit</text>
<text x="217.6" y="539.7" textLength="34.8" lengthAdjust="spacingAndGlyphs">veniam commodo</text>
<text x="217.6" y="544.0" textLength="34.8" lengthAdjust="spacingAndGlyphs">commodo pariatur</text>
<text x="217.6" y="548.2" textLength="34.8" lengthAdjust="spacingAndGlyphs">commodo veniam</text>
<text x="217.6" y="552.4" textLength="34.8" lengthAdjust="spacingAndGlyphs">eiusmod aliqua ut</text>
<rect x="251.3" y="521.4" width="40.0" height="22.2" fill="#e3e6e9" stroke="none" opacity="0.95"/>
<text x="253.2" y="527.0" textLength="34.8" lengthAdjust="spacingAndGlyphs">labore commodo</text>
<text x="253.2" y="531.2" textLength="34.8" lengthAdjust="spacingAndGlyphs">elit esse commodo</text>
<text x="253.2" y="535.5" textLength="34.8" lengthAdjust="spacingAndGlyphs">irure adipiscing ad</text>
<text x="253.2" y="539.7" textLength="34.8" lengthAdjust="spacingAndGlyphs">ullamco nisi cillum</text>
<rect x="249.5" y="394.6" width="18.5" height="14.5" fill="#e3e6e9" stroke="none" opacity="0.95"/>
<text x="251.4" y="400.2" textLength="13.3" lengthAdjust="spacingAndGlyphs">quis ut</text>
<text x="251.4" y="404.4" textLength="13.3" lengthAdjust="spacingAndGlyphs">aute ex</text>
<rect x="331.5" y="382.0" width="30.0" height="15.0" fill="#e3e6e9" stroke="none" opacity="0.95"/>
<text x="333.4" y="387.6" textLength="24.8" lengthAdjust="spacingAndGlyphs">aute pariatur</text>
<text x="333.4" y="391.8" textLength="14.6" lengthAdjust="spacingAndGlyphs">ad duis</text>
<rect x="363.0" y="415.4" width="37.5" height="15.0" fill="#e3e6e9" stroke="none" opacity="0.95"/>
<text x="364.9" y="421.0" textLength="32.3" lengthAdjust="spacingAndGlyphs">aliquip fugiat ad</text>
<text x="364.9" y="425.2" textLength="23.4" lengthAdjust="spacingAndGlyphs">dolore sed</text>
<rect x="270.0" y="359.5" width="35.0" height="30.0" fill="#e3e6e9" stroke="none" opacity="0.95"/>
<text x="271.9" y="365.1" textLength="29.8" lengthAdjust="spacingAndGlyphs">ex cillum et velit</text>
<text x="271.9" y="369.3" textLength="29.8" lengthAdjust="spacingAndGlyphs">do et ad duis et</text>
<text x="271.9" y="373.6" textLength="29.8" lengthAdjust="spacingAndGlyphs">incididunt do ut</text>
<text x="271.9" y="377.8" textLength="29.8" lengthAdjust="spacingAndGlyphs">ex dolor lorem</text>
<text x="271.9" y="382.1" textLength="29.8" lengthAdjust="spacingAndGlyphs">nisi pariatur ex</text>
<text x="271.9" y="386.3" textLength="29.8" lengthAdjust="spacingAndGlyphs">voluptate lorem</text>
<rect x="146.0" y="528.4" width="39.0" height="32.0" fill="#e3e6e9" stroke="none" opacity="0.95"/>
<text x="147.9" y="534.0" textLength="33.8" lengthAdjust="spacingAndGlyphs">nisi pariatur in elit</text>
<text x="147.9" y="538.2" textLength="33.8" lengthAdjust="spacingAndGlyphs">nisi ad dolore et</text>
<text x="147.9" y="542.5" textLength="33.8" lengthAdjust="spacingAndGlyphs">esse eiusmod nisi</text>
<text x="147.9" y="546.7" textLength="33.8" lengthAdjust="spacingAndGlyphs">ex ipsum velit ad</text>
<text x="147.9" y="551.0" textLength="33.8" lengthAdjust="spacingAndGlyphs">nostrud commodo</text>
<text x="147.9" y="555.2" textLength="33.8" lengthAdjust="spacingAndGlyphs">aute ut eiusmod</text>
<rect x="305.4" y="534.2" width="41.1" height="33.4" fill="#e3e6e9" stroke="none" opacity="0.95"/>
<text x="307.3" y="539.8" textLength="35.9" lengthAdjust="spacingAndGlyphs">duis veniam in ex</text>
<text x="307.3" y="544.0" textLength="35.9" lengthAdjust="spacingAndGlyphs">ut ea consequat ex</text>
<text x="307.3" y="548.3" textLength="35.9" lengthAdjust="spacingAndGlyphs">nulla tempor elit</text>
<text x="307.3" y="552.5" textLength="35.9" lengthAdjust="spacingAndGlyphs">veniam esse sit sit</text>
<text x="307.3" y="556.8" textLength="35.9" lengthAdjust="spacingAndGlyphs">amet laboris esse</text>
<text x="307.3" y="561.0" textLength="35.9" lengthAdjust="spacingAndGlyphs">nulla veniam enim</text>
<text x="307.3" y="565.2" textLength="23.7" lengthAdjust="spacingAndGlyphs">labore ex ut</text>
<rect x="305.4" y="568.6" width="41.1" height="28.4" fill="#e3e6e9" stroke="none" opacity="0.95"/>
<text x="307.3" y="574.2" textLength="35.9" lengthAdjust="spacingAndGlyphs">sed amet esse ea</text>
<text x="307.3" y="578.4" textLength="35.9" lengthAdjust="spacingAndGlyphs">irure labore do ex</text>
<text x="307.3" y="582.7" textLength="35.9" lengthAdjust="spacingAndGlyphs">irure cillum sed ea</text>
<text x="307.3" y="586.9" textLength="35.9" lengthAdjust="spacingAndGlyphs">labore magna nulla</text>
<text x="307.3" y="591.2" textLength="25.9" lengthAdjust="spacingAndGlyphs">ea lorem et ad</text>
<rect x="284.8" y="477.0" width="62.8" height="9.2" fill="#e3e6e9" stroke="none" opacity="0.95"/>
<text x="286.7" y="482.6" textLength="40.3" lengthAdjust="spacingAndGlyphs">consectetur fugiat</text>
<rect x="270.0" y="526.2" width="19.4" height="15.9" fill="#e3e6e9" stroke="none" opacity="0.95"/>
<text x="271.9" y="531.8" textLength="14.2" lengthAdjust="spacingAndGlyphs">do sit</text>
<text x="271.9" y="536.0" textLength="7.5" lengthAdjust="spacingAndGlyphs">ut</text>
<rect x="356.8" y="479.4" width="39.9" height="18.2" fill="#e3e6e9" stroke="none" opacity="0.95"/>
<text x="358.7" y="485.0" textLength="34.7" lengthAdjust="spacingAndGlyphs">nulla amet tempor</text>
<text x="358.7" y="489.2" textLength="34.7" lengthAdjust="spacingAndGlyphs">quis esse cillum</text>
<text x="358.7" y="493.5" textLength="34.7" lengthAdjust="spacingAndGlyphs">dolor nulla minim</text>
</g>
<g font-size="12" font-weight="bold" text-anchor="middle">
<text x="193.5" y="356.8" fill="#363c50" textLength="6" lengthAdjust="spacingAndGlyphs">S</text>
<text x="314.5" y="332.3" fill="#363c50" textLength="6" lengthAdjust="spacingAndGlyphs">S</text>
<text x="195.7" y="393.8" fill="#363c50" textLength="6" lengthAdjust="spacingAndGlyphs">S</text>
<text x="192.6" y="423.6" fill="#2a5fa8" textLength="6" lengthAdjust="spacingAndGlyphs">S</text>
<text x="287.8" y="370.3" fill="#2a5fa8" textLength="6" lengthAdjust="spacingAndGlyphs">S</text>
<text x="314.5" y="383.6" fill="#2a5fa8" textLength="6" lengthAdjust="spacingAndGlyphs">S</text>
<text x="310" y="421.3" fill="#363c50" textLength="6" lengthAdjust="spacingAndGlyphs">S</text>
<text x="409.3" y="416.0" fill="#363c50" textLength="6" lengthAdjust="spacingAndGlyphs">S</text>
<text x="380.3" y="439.1" fill="#363c50" textLength="6" lengthAdjust="spacingAndGlyphs">S</text>
<text x="142.3" y="451.6" fill="#363c50" textLength="6" lengthAdjust="spacingAndGlyphs">S</text>
<text x="126.7" y="470.3" fill="#363c50" textLength="6" lengthAdjust="spacingAndGlyphs">S</text>
<text x="189" y="479.3" fill="#2a5fa8" textLength="6" lengthAdjust="spacingAndGlyphs">S</text>
<text x="207.7" y="496.90000000000003" fill="#363c50" textLength="6" lengthAdjust="spacingAndGlyphs">S</text>
<text x="163.7" y="510.3" fill="#2a5fa8" textLength="6" lengthAdjust="spacingAndGlyphs">S</text>
<text x="270" y="465.8" fill="#363c50" textLength="6" lengthAdjust="spacingAndGlyphs">S</text>
<text x="319" y="534.8" fill="#363c50" textLength="6" lengthAdjust="spacingAndGlyphs">S</text>
<text x="222.5" y="451.6" fill="#363c50" textLength="6" lengthAdjust="spacingAndGlyphs">S</text>
<text x="248" y="384.8" fill="#2a5fa8" textLength="6" lengthAdjust="spacingAndGlyphs">S</text>
</g>
<path d="M276.0 399.8L170.8 348.2" stroke="#db3c43" stroke-width="1.6" fill="none"/>
<path d="M162.7 344.2L172.3 345.0L169.2 351.3Z" fill="#db3c43"/>
<path d="M292.6 408.4L368.5 356.2" stroke="#db3c43" stroke-width="1.6" fill="none"/>
<path d="M375.9 351.1L370.5 359.1L366.5 353.3Z" fill="#db3c43"/>
<path d="M242.3 465.3L160.9 523.6" stroke="#db3c43" stroke-width="1.6" fill="none"/>
<path d="M153.6 528.8L158.9 520.7L163.0 526.4Z" fill="#db3c43"/>
<path d="M264.8 463.3L369.0 533.0" stroke="#db3c43" stroke-width="1.6" fill="none"/>
<path d="M376.5 538.0L367.1 535.9L371.0 530.1Z" fill="#db3c43"/>
<circle cx="276" cy="399.8" r="1.4" fill="#db3c43"/>
<path d="M445.3 326.4H476.1V444.6H487" stroke="#db3c43" stroke-width="1.5" fill="none"/>
<path d="M495.6 444.6L486 440.4V448.8Z" fill="#db3c43"/>
<circle cx="125.3" cy="331" r="30.40" fill="none" stroke="#db3c43" stroke-width="3.6"/>
<g stroke="#db3c43" fill="none" stroke-linecap="round"><circle cx="122.3" cy="327" r="10.9" stroke-width="2.7"/><path d="M131.2 336.5L140 345.3" stroke-width="4"/></g>
<text x="126.4" y="378.3" font-size="10.2" fill="#db3c43" font-weight="normal" text-anchor="middle" textLength="69" lengthAdjust="spacingAndGlyphs" >LOW VISIBILITY</text>
<circle cx="410.6" cy="332.8" r="30.40" fill="none" stroke="#db3c43" stroke-width="3.6"/>
<g stroke="#db3c43" fill="none" stroke-linecap="round"><path d="M391.5 333Q411 311.5 430.7 333Q411 354.5 391.5 333Z" stroke-width="1.8"/><circle cx="411" cy="332.5" r="8.2" stroke-width="1.8"/><circle cx="411" cy="332.5" r="3.6" fill="#db3c43" stroke="none"/><path d="M394 315.3L428 350.6M428 315.3L394 350.6" stroke-width="3"/></g>
<text x="413.8" y="378.8" font-size="10.2" fill="#db3c43" font-weight="normal" text-anchor="middle" textLength="68.5" lengthAdjust="spacingAndGlyphs" >LOW VISVBILITY</text>
<circle cx="122.2" cy="552.1" r="30.40" fill="none" stroke="#db3c43" stroke-width="3.6"/>
<g stroke="#db3c43" fill="none" stroke-width="2.3" stroke-linejoin="miter"><path d="M122.6 535.3L106.6 564.6H138.6Z"/><path d="M115.5 546.3H129.7M111 554.9H134.3"/></g>
<text x="124.5" y="599.4" font-size="10.2" fill="#db3c43" font-weight="normal" text-anchor="middle" textLength="69.5" lengthAdjust="spacingAndGlyphs" >LOW VISIBLITY</text>
<circle cx="409.8" cy="555.9" r="30.40" fill="none" stroke="#db3c43" stroke-width="3.6"/>
<g fill="#db3c43"><path d="M392.6 540.3h1.7v32.2h33.5v1.8h-35.2z"/><rect x="397.3" y="551.6" width="6.9" height="18.2"/><rect x="407.1" y="559.8" width="7" height="10"/><rect x="417.2" y="549.3" width="5.8" height="20.5"/><path d="M409.3 532.8h3.8v8.8h3.9l-5.8 6.9l-5.8-6.9h3.9z"/></g>
<text x="412.5" y="602.4" font-size="10.2" fill="#db3c43" font-weight="normal" text-anchor="middle" textLength="70" lengthAdjust="spacingAndGlyphs" >LOW VISIIBLITY</text>
<path d="M493 421.3H725V400.8L767 442.7L725 484.9V463.8H493L509.7 442.6Z" fill="#1c7bc3"/>
<text x="627.3" y="449" font-size="18" fill="#fff" font-weight="bold" text-anchor="middle" textLength="197.5" lengthAdjust="spacingAndGlyphs" >OPTIMIZATION PROCESS</text>
<circle cx="624.3" cy="253.9" r="31.00" fill="none" stroke="#1d72c0" stroke-width="3.6"/>
<g stroke="#1d72c0" fill="none" stroke-linecap="round"><circle cx="620.1" cy="250.3" r="11.2" stroke-width="2.8"/><path d="M613.8 250.3H626.4M620.1 244.2V256.4" stroke-width="2.4"/><path d="M629.8 260.2L639.3 269" stroke-width="4.6"/></g>
<text x="626.1" y="300.4" font-size="10.4" fill="#2f6db0" font-weight="normal" text-anchor="middle" textLength="81" lengthAdjust="spacingAndGlyphs" stroke="#2f6db0" stroke-width="0.2">Content Shucture</text>
<circle cx="624.4" cy="350" r="30.65" fill="none" stroke="#4fb050" stroke-width="3.9"/>
<g stroke="#1d72c0" fill="none" stroke-width="1.3" stroke-linecap="round"><path d="M622.5 349.5L640.9 354.2 M622.5 349.5L632.2 365.8 M622.5 349.5L617.8 367.9 M622.5 349.5L606.2 359.2 M622.5 349.5L604.1 344.8 M622.5 349.5L612.8 333.2 M622.5 349.5L627.2 331.1 M622.5 349.5L638.8 339.8 M631.2 351.7Q628.2 353.8 627.1 357.2Q623.5 356.6 620.3 358.2Q618.2 355.2 614.8 354.1Q615.4 350.5 613.8 347.3Q616.8 345.2 617.9 341.8Q621.5 342.4 624.7 340.8Q626.8 343.8 630.2 344.9Q629.6 348.5 631.2 351.7 M637.5 353.3Q632.4 356.9 630.4 362.8Q624.3 361.7 618.7 364.5Q615.1 359.4 609.2 357.4Q610.3 351.3 607.5 345.7Q612.6 342.1 614.6 336.2Q620.7 337.3 626.3 334.5Q629.9 339.6 635.8 341.6Q634.7 347.7 637.5 353.3"/></g>
<circle cx="622.5" cy="348.5" r="2.6" fill="#f6fafd" stroke="#1d72c0" stroke-width="1.1"/><circle cx="621.6" cy="348.1" r="0.55" fill="#1d72c0"/><circle cx="623.4" cy="348.1" r="0.55" fill="#1d72c0"/>
<circle cx="631.9" cy="356.4" r="6.7" fill="#f6fafd" stroke="#1d72c0" stroke-width="2"/>
<path d="M636.8 361.6L643 368.4" stroke="#1d72c0" stroke-width="2.4" stroke-linecap="round"/>
<text x="631.9" y="359.6" font-size="8.5" fill="#1d72c0" font-weight="bold" text-anchor="middle" >S</text>
<text x="624" y="396.4" font-size="10.4" fill="#2f6db0" font-weight="normal" text-anchor="middle" textLength="46.5" lengthAdjust="spacingAndGlyphs" stroke="#2f6db0" stroke-width="0.2">AI Crawler</text>
<text x="625.5" y="408.5" font-size="10.4" fill="#2f6db0" font-weight="normal" text-anchor="middle" textLength="57" lengthAdjust="spacingAndGlyphs" stroke="#2f6db0" stroke-width="0.2">Accesssbiiity</text>
<circle cx="624.2" cy="516.9" r="31.05" fill="none" stroke="#1d72c0" stroke-width="3.7"/>
<g stroke="#1d72c0" fill="none" stroke-width="1.5" stroke-linejoin="round"><path d="M609.7 507.8H605.6V529.8H620Q624.2 530.2 624.2 532.6Q624.2 530.2 628.4 529.8H643.4V507.8H639"/><path d="M624.2 507.6Q620 504.6 609.7 504.8V526.6Q620 526.4 624.2 529.6Q628.4 526.4 639 526.6V504.8Q628.4 504.6 624.2 507.6V529.6"/><path d="M612.8 514H620.4M612.8 517.4H620.4M612.8 520.8H620.4M628 517.4H635.6M628 520.8H635.6" stroke-width="1.3"/></g>
<g fill="#1d72c0"><rect x="628" y="509.2" width="2.6" height="4"/><rect x="632.9" y="509.2" width="2.6" height="4"/></g>
<text x="625.2" y="563" font-size="10.4" fill="#2f6db0" font-weight="normal" text-anchor="middle" textLength="34.7" lengthAdjust="spacingAndGlyphs" stroke="#2f6db0" stroke-width="0.2">Citation</text>
<text x="625.4" y="575" font-size="10.4" fill="#2f6db0" font-weight="normal" text-anchor="middle" textLength="47.2" lengthAdjust="spacingAndGlyphs" stroke="#2f6db0" stroke-width="0.2">Peisillaring</text>
<circle cx="624.2" cy="621.1" r="31.05" fill="none" stroke="#1d72c0" stroke-width="3.7"/>
<g stroke="#1d72c0" fill="none" stroke-width="2.1" stroke-linejoin="round"><path d="M624.2 605.2Q617 609.6 610.3 610V621Q610.3 632.5 624.2 638.6Q638.1 632.5 638.1 621V610Q631.4 609.6 624.2 605.2Z"/>
<path d="M624.2 614.6L626.0 619.1L630.9 619.4L627.1 622.6L628.3 627.3L624.2 624.7L620.1 627.3L621.3 622.6L617.5 619.4L622.4 619.1Z" stroke-width="1.8"/></g>
<text x="624.8" y="667.2" font-size="10.4" fill="#2f6db0" font-weight="normal" text-anchor="middle" textLength="28.3" lengthAdjust="spacingAndGlyphs" stroke="#2f6db0" stroke-width="0.2">Enlility</text>
<text x="624.9" y="680" font-size="10.4" fill="#2f6db0" font-weight="normal" text-anchor="middle" textLength="60.6" lengthAdjust="spacingAndGlyphs" stroke="#2f6db0" stroke-width="0.2">Optimization</text>
<rect x="797" y="300.3" width="137.4" height="111.2" rx="3" fill="#c9dbea" opacity="0.11" filter="url(#sh)"/>
<rect x="800" y="303.3" width="131.4" height="105.2" rx="2" fill="#ffffff" opacity="0.8" filter="url(#b2)"/>
<rect x="808.7" y="310.8" width="113.3" height="11.2" fill="#1c7bc3"/>
<text x="811.6" y="319" font-size="7.6" fill="#fff" font-weight="bold" text-anchor="start" textLength="41.7" lengthAdjust="spacingAndGlyphs" >Imtoduclon</text>
<rect x="810" y="330" width="3.2" height="1.8" fill="#e58a5a"/>
<text x="817" y="332.6" font-size="4.2" fill="#a9afb6" font-weight="normal" text-anchor="start" textLength="45" lengthAdjust="spacingAndGlyphs" >mr tst sid; tlycsn rds</text>
<path d="M818 344.2L820 346.59999999999997L823.7 341.59999999999997" stroke="#2a6fb3" stroke-width="1.25" fill="none" stroke-linecap="round" stroke-linejoin="round"/>
<path d="M828.8 344.2H918.1" stroke="#bcc0c5" stroke-width="2.1" stroke-linecap="round"/>
<path d="M818 354.8L820 357.2L823.7 352.2" stroke="#2a6fb3" stroke-width="1.25" fill="none" stroke-linecap="round" stroke-linejoin="round"/>
<path d="M828.8 354.8H908.7" stroke="#bcc0c5" stroke-width="2.1" stroke-linecap="round"/>
<path d="M818 365.6L820 368.0L823.7 363.0" stroke="#2a6fb3" stroke-width="1.25" fill="none" stroke-linecap="round" stroke-linejoin="round"/>
<path d="M828.8 365.6H874.8" stroke="#bcc0c5" stroke-width="2.1" stroke-linecap="round"/>
<path d="M818 376.1L820 378.5L823.7 373.5" stroke="#2a6fb3" stroke-width="1.25" fill="none" stroke-linecap="round" stroke-linejoin="round"/>
<path d="M828.8 376.1H884" stroke="#bcc0c5" stroke-width="2.1" stroke-linecap="round"/>
<path d="M818 386.9L820 389.29999999999995L823.7 384.29999999999995" stroke="#2a6fb3" stroke-width="1.25" fill="none" stroke-linecap="round" stroke-linejoin="round"/>
<path d="M828.8 386.9H915.9" stroke="#bcc0c5" stroke-width="2.1" stroke-linecap="round"/>
<path d="M818 397.5L820 399.9L823.7 394.9" stroke="#2a6fb3" stroke-width="1.25" fill="none" stroke-linecap="round" stroke-linejoin="round"/>
<path d="M828.8 397.5H872" stroke="#bcc0c5" stroke-width="2.1" stroke-linecap="round"/>
<rect x="939.5" y="300.3" width="144.3" height="66.1" rx="3" fill="#c9dbea" opacity="0.11" filter="url(#sh)"/>
<rect x="942.5" y="303.3" width="138.3" height="60.1" rx="2" fill="#ffffff" opacity="0.5" filter="url(#b2)"/>
<rect x="949.8" y="310.8" width="122.4" height="11.2" fill="#1c7bc3"/>
<text x="953.4" y="319" font-size="7.6" fill="#fff" font-weight="bold" text-anchor="start" textLength="41.4" lengthAdjust="spacingAndGlyphs" >Inay Beustkls</text>
<circle cx="952.2" cy="330.2" r="0.9" fill="#3b6fa5"/>
<path d="M957.5 330.2H1022.2" stroke="#bcc0c5" stroke-width="1.9" stroke-linecap="round"/>
<circle cx="952.2" cy="337.3" r="0.9" fill="#3b6fa5"/>
<path d="M957.5 337.3H1068.7" stroke="#bcc0c5" stroke-width="1.9" stroke-linecap="round"/>
<circle cx="952.2" cy="344.4" r="0.9" fill="#3b6fa5"/>
<path d="M957.5 344.4H998.4" stroke="#bcc0c5" stroke-width="1.9" stroke-linecap="round"/>
<circle cx="952.2" cy="351.6" r="0.9" fill="#3b6fa5"/>
<path d="M957.5 351.6H1053.4" stroke="#bcc0c5" stroke-width="1.9" stroke-linecap="round"/>
<rect x="939.5" y="367.5" width="144.3" height="112" rx="3" fill="#c9dbea" opacity="0.11" filter="url(#sh)"/>
<rect x="942.5" y="370.5" width="138.3" height="106" rx="2" fill="#ffffff" opacity="0.5" filter="url(#b2)"/>
<text x="951.1" y="383.4" font-size="9.2" fill="#2876bf" font-weight="bold" text-anchor="start" textLength="46.1" lengthAdjust="spacingAndGlyphs" >Key Bexefits</text>
<path d="M960.2 390H1057.5" stroke="#bcc0c5" stroke-width="1.9" stroke-linecap="round"/>
<circle cx="954.2" cy="397.8" r="0.9" fill="#3b6fa5"/>
<path d="M961.5 397.8H1002.4" stroke="#bcc0c5" stroke-width="1.9" stroke-linecap="round"/>
<circle cx="955.8" cy="405.6" r="0.9" fill="#3b6fa5"/>
<path d="M961 405.6H1064.4" stroke="#bcc0c5" stroke-width="1.9" stroke-linecap="round"/>
<ellipse cx="962" cy="413.4" rx="1.6" ry="1" fill="#2a6fb3"/>
<path d="M967.2 413.4H1059.4" stroke="#bcc0c5" stroke-width="1.9" stroke-linecap="round"/>
<circle cx="954.2" cy="420.8" r="0.9" fill="#3b6fa5"/>
<path d="M961 420.8H1029.7" stroke="#bcc0c5" stroke-width="1.9" stroke-linecap="round"/>
<rect x="966.7" y="432" width="78.1" height="40" rx="1.5" fill="#ffffff"/>
<rect x="970.9" y="437.5" width="55.1" height="9.2" rx="1.5" fill="#1c7bc3"/>
<text x="998.4" y="444.4" font-size="6" fill="#fff" font-weight="bold" text-anchor="middle" textLength="47" lengthAdjust="spacingAndGlyphs" >Utroucturerd Bcetn</text>
<g font-size="3.4" font-weight="bold">
<text x="973" y="455.3"><tspan fill="#3f78b8">{ wstecrne: </tspan><tspan fill="#8a9099">mibsosistemctr s onues</tspan></text>
<text x="976" y="459.6" fill="#3f78b8">gtim: ltunrtor jx</text>
<text x="976" y="463.3"><tspan fill="#d9674a">nmbeytcd: </tspan><tspan fill="#9aa0a8">vertsacsmon om ybormbostm</tspan></text>
<text x="972.2" y="467.2"><tspan fill="#6b7480">"lg </tspan><tspan fill="#3f78b8">mcebtzom.</tspan></text>
</g>
<rect x="939.5" y="479.8" width="109.1" height="42.7" rx="3" fill="#c9dbea" opacity="0.11" filter="url(#sh)"/>
<rect x="942.5" y="482.8" width="103.1" height="36.7" rx="2" fill="#ffffff" opacity="0.5" filter="url(#b2)"/>
<rect x="950.3" y="487.5" width="87.5" height="25.8" fill="#e7edf3"/>
<g font-size="3.6" font-weight="bold" fill="#2b4f8f">
<text x="955.8" y="497">1. x kelcecmnete  s x asveceqrycete</text>
<text x="960.5" y="501.7">tcp Bincatctoaltoecrat  tejet ge lq. daboeewrdm</text>
<text x="957.3" y="506.4">i.x betcelecalt stojt <tspan fill="#3fa27a">ontescettm</tspan></text>
</g>
<rect x="797" y="413.6" width="137.4" height="66" rx="3" fill="#c9dbea" opacity="0.11" filter="url(#sh)"/>
<rect x="800" y="416.6" width="131.4" height="60" rx="2" fill="#ffffff" opacity="0.8" filter="url(#b2)"/>
<text x="809.5" y="429.7" font-size="9.2" fill="#2876bf" font-weight="bold" text-anchor="start" textLength="47.7" lengthAdjust="spacingAndGlyphs" >Key Beeefits</text>
<circle cx="811.4" cy="436.3" r="0.9" fill="#3b6fa5"/>
<path d="M816.5 436.3H908" stroke="#bcc0c5" stroke-width="1.9" stroke-linecap="round"/>
<circle cx="811.4" cy="443.9" r="1.1" fill="#35506e"/>
<path d="M816.5 443.9H844.7" stroke="#bcc0c5" stroke-width="1.9" stroke-linecap="round"/>
<path d="M816.5 451.9H917.8" stroke="#bcc0c5" stroke-width="1.9" stroke-linecap="round"/>
<path d="M816.5 459.4H900.7" stroke="#bcc0c5" stroke-width="1.9" stroke-linecap="round"/>
<circle cx="811.4" cy="467.2" r="0.9" fill="#3b6fa5"/>
<path d="M816.5 467.2H864.4" stroke="#bcc0c5" stroke-width="1.9" stroke-linecap="round"/>
<rect x="797" y="478.3" width="137.4" height="109.4" rx="3" fill="#c9dbea" opacity="0.11" filter="url(#sh)"/>
<rect x="800" y="481.3" width="131.4" height="103.4" rx="2" fill="#ffffff" opacity="0.8" filter="url(#b2)"/>
<text x="809.5" y="495.6" font-size="9.2" fill="#2876bf" font-weight="bold" text-anchor="start" textLength="57.4" lengthAdjust="spacingAndGlyphs" >Strucbmd Deta</text>
<circle cx="810.5" cy="502.3" r="0.9" fill="#3b6fa5"/>
<path d="M816 502.3H907" stroke="#bcc0c5" stroke-width="1.9" stroke-linecap="round"/>
<circle cx="810.5" cy="510" r="0.9" fill="#3b6fa5"/>
<path d="M816 510H845.3" stroke="#bcc0c5" stroke-width="1.9" stroke-linecap="round"/>
<circle cx="810.5" cy="517.8" r="0.9" fill="#3b6fa5"/>
<path d="M816 517.8H905.2" stroke="#bcc0c5" stroke-width="1.9" stroke-linecap="round"/>
<circle cx="810.5" cy="525.5" r="0.9" fill="#3b6fa5"/>
<path d="M816 525.5H844.8" stroke="#bcc0c5" stroke-width="1.9" stroke-linecap="round"/>
<circle cx="810.5" cy="533.7" r="0.9" fill="#3b6fa5"/>
<path d="M816 533.7H908" stroke="#bcc0c5" stroke-width="1.9" stroke-linecap="round"/>
<path d="M816 541H881.6" stroke="#bcc0c5" stroke-width="1.9" stroke-linecap="round"/>
<circle cx="810.5" cy="549.2" r="0.9" fill="#3b6fa5"/>
<path d="M816 549.2H918.9" stroke="#bcc0c5" stroke-width="1.9" stroke-linecap="round"/>
<path d="M816 556.9H893.9" stroke="#bcc0c5" stroke-width="1.9" stroke-linecap="round"/>
<circle cx="849.7" cy="564.8" r="30.2" fill="#f4f8fc" opacity="0.55"/>
<circle cx="849.7" cy="564.8" r="30.15" fill="none" stroke="#4fb050" stroke-width="3.9"/>
<g stroke="#4fb050" fill="none" stroke-width="1.5" stroke-linecap="round" stroke-linejoin="round">
<path d="M847.5 552.4Q847.5 549.8 844.5 549.8A3.5 3.5 0 0 0 839.1 553.0A5.0 5.0 0 0 0 834.5 560.6A5.1 5.1 0 0 0 834.6 569.7A4.8 4.8 0 0 0 839.1 577.0A3.5 3.5 0 0 0 844.5 580.2Q847.5 580.2 847.5 577.6Z"/>
<path d="M851.9 552.4Q851.9 549.8 854.9 549.8A3.5 3.5 0 0 1 860.3 553.0A5.0 5.0 0 0 1 864.9 560.6A5.1 5.1 0 0 1 864.8 569.7A4.8 4.8 0 0 1 860.3 577.0A3.5 3.5 0 0 1 854.9 580.2Q851.9 580.2 851.9 577.6Z"/>
<path d="M844.4 553.8V557.6L841.6 559.6M838.2 556.6L840.6 558.8M836 564.6H839.6L841.4 566.6M844.6 563V569.4M844.6 569.4L841.8 571.6M838.4 574L841 572.2M844.4 575.6V578" stroke-width="1.15"/>
<path d="M855 553.8V556.8L857.8 558.8M861.2 556.6L858.8 558.8M855 561V567.6L857.8 569.6M863.4 564.6H860L858 566.6M861 574L858.4 572.2M855 572.4V578" stroke-width="1.15"/>
</g>
<g fill="#4fb050"><circle cx="841.4" cy="559.8" r="1.05"/><circle cx="841.5" cy="566.8" r="1.05"/><circle cx="841.6" cy="571.8" r="1.05"/><circle cx="858" cy="559" r="1.05"/><circle cx="858" cy="566.6" r="1.05"/><circle cx="858" cy="569.8" r="1.05"/><circle cx="844.6" cy="562.6" r="1.05"/><circle cx="855" cy="560.6" r="1.05"/></g>
<text x="850.7" y="611.6" font-size="10.6" fill="#2876bf" font-weight="normal" text-anchor="middle" textLength="77.2" lengthAdjust="spacingAndGlyphs" stroke="#2876bf" stroke-width="0.3">Authority Signals</text>
<circle cx="1131.5" cy="337.3" r="30" fill="#f1f3fc" opacity="0.45"/>
<circle cx="1131.5" cy="337.3" r="30.35" fill="none" stroke="#4fb050" stroke-width="3.7"/>
<g stroke="#4fb050" fill="none" stroke-width="1.9" stroke-linecap="round" stroke-linejoin="round"><path d="M1111 338.7Q1130.8 316.6 1150.7 338.5Q1130.8 361.4 1111 338.7Z"/><circle cx="1130.8" cy="338.7" r="8.4"/><circle cx="1130.8" cy="338.7" r="4.5" fill="#4fb050" stroke="none"/><path d="M1141.4 325.7L1143.4 322.4M1146 329L1148.3 325.4M1149.3 332.6L1152 329.7" stroke-width="1.7"/></g>
<text x="1132.2" y="383.5" font-size="10.1" fill="#52a856" font-weight="normal" text-anchor="middle" textLength="71.4" lengthAdjust="spacingAndGlyphs" stroke="#52a856" stroke-width="0.2">HIGH VISIBLITY</text>
<circle cx="1129.6" cy="555.7" r="30" fill="#f1f3fc" opacity="0.45"/>
<circle cx="1129.6" cy="555.7" r="30.55" fill="none" stroke="#4fb050" stroke-width="3.7"/>
<g stroke="#4fb050" fill="none" stroke-width="1.6" stroke-linejoin="miter"><path d="M1110.4 573.3H1146.5" stroke-width="1.9"/><rect x="1111.6" y="565.2" width="5" height="8"/><rect x="1121" y="562" width="5.6" height="11.2"/><rect x="1129.9" y="558.6" width="5.6" height="14.6"/><rect x="1139.4" y="550.8" width="5.6" height="22.4"/><path d="M1110.4 559.5L1120.5 550.5L1128.4 556.6L1142.3 542.2" stroke-width="1.9" stroke-linecap="round" stroke-linejoin="round"/></g>
<path d="M1145.3 539L1144.6 545.2L1139.2 540.2Z" fill="#4fb050" stroke="#4fb050" stroke-width="1" stroke-linejoin="round"/>
<text x="1131.9" y="602.6" font-size="10.1" fill="#52a856" font-weight="normal" text-anchor="middle" textLength="72.4" lengthAdjust="spacingAndGlyphs" stroke="#52a856" stroke-width="0.2">HIGH VISIBLITY</text>
<path d="M992.6 420.4L1086.2 358.0" stroke="#4fb050" stroke-width="1.3" fill="none"/>
<path d="M1093.7 353.0L1088.3 361.1L1084.1 354.9Z" fill="#4fb050"/>
<path d="M972.4 448.0L892.1 535.2" stroke="#4fb050" stroke-width="1.3" fill="none"/>
<path d="M886.0 541.8L889.3 532.6L894.9 537.7Z" fill="#4fb050"/>
<path d="M970.4 449.6L976.6 447.8L972.6 443.6Z" fill="#4fb050"/>
<path d="M1064 450.6H1128.2V510" stroke="#4fb050" stroke-width="1.4" fill="none"/>
<path d="M1055.6 450.6L1065 446.2V455Z" fill="#4fb050"/>
<path d="M1128.2 518.8L1123.9 509.4H1132.5Z" fill="#4fb050"/>
<path d="M1053.2 528V636.5H1166.5" stroke="#4fb050" stroke-width="1.4" fill="none"/>
<path d="M1053.2 519.2L1048.9 528.6H1057.5Z" fill="#4fb050"/>
</g>
</svg>
</body></html>
